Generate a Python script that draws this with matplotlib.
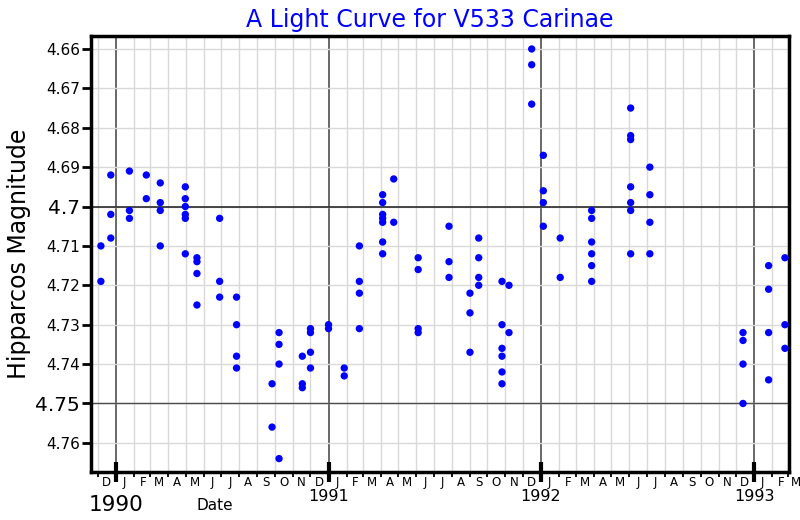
import pandas as pd
import matplotlib
matplotlib.use("Agg")
import matplotlib.pyplot as plt
import matplotlib.dates as mdates
from matplotlib.ticker import NullFormatter

epochs = ["1989-12-06", "1989-12-23", "1990-01-24", "1990-02-22", "1990-03-18",
          "1990-04-30", "1990-05-20", "1990-06-28", "1990-07-27", "1990-09-26",
          "1990-10-08", "1990-11-17", "1990-12-01", "1991-01-01", "1991-01-28",
          "1991-02-23", "1991-04-04", "1991-04-23", "1991-06-04", "1991-07-27",
          "1991-09-01", "1991-09-16", "1991-10-26", "1991-11-07", "1991-12-16",
          "1992-01-05", "1992-02-03", "1992-03-28", "1992-06-03", "1992-07-06",
          "1992-12-13", "1993-01-26", "1993-02-23"]
mag_groups = [[4.710, 4.719], [4.692, 4.702, 4.708], [4.691, 4.701, 4.703],
              [4.692, 4.698], [4.694, 4.699, 4.701, 4.710],
              [4.695, 4.698, 4.700, 4.702, 4.703, 4.712],
              [4.713, 4.714, 4.717, 4.725], [4.703, 4.719, 4.723],
              [4.723, 4.730, 4.738, 4.741], [4.745, 4.756],
              [4.732, 4.735, 4.740, 4.764], [4.738, 4.745, 4.746],
              [4.731, 4.732, 4.737, 4.741], [4.730, 4.731], [4.741, 4.743],
              [4.710, 4.719, 4.722, 4.731],
              [4.697, 4.699, 4.702, 4.703, 4.704, 4.709, 4.712],
              [4.693, 4.704], [4.713, 4.716, 4.731, 4.732],
              [4.705, 4.714, 4.718], [4.722, 4.727, 4.737],
              [4.708, 4.713, 4.718, 4.720],
              [4.719, 4.730, 4.736, 4.738, 4.742, 4.745], [4.720, 4.732],
              [4.660, 4.664, 4.674], [4.687, 4.696, 4.699, 4.705],
              [4.708, 4.718], [4.701, 4.703, 4.709, 4.712, 4.715, 4.719],
              [4.675, 4.682, 4.683, 4.695, 4.699, 4.701, 4.712],
              [4.690, 4.697, 4.704, 4.712], [4.732, 4.734, 4.740, 4.750],
              [4.715, 4.721, 4.732, 4.744], [4.713, 4.730, 4.736]]

year_labels = ["1990", "1991", "1992", "1993"]
month_letters = "JFMAMJJASOND"
mag_ticks = [4.66, 4.67, 4.68, 4.69, 4.70, 4.71, 4.72, 4.73, 4.74, 4.75, 4.76]
mag_labels = ["4.66", "4.67", "4.68", "4.69", "4.7", "4.71", "4.72", "4.73",
              "4.74", "4.75", "4.76"]

dates, mags = [], []
for d, group in zip(epochs, mag_groups):
    for m in group:
        dates.append(d)
        mags.append(m)
dates = pd.to_datetime(dates)

fig = plt.figure(figsize=(8, 5.2), dpi=100)
ax = fig.add_axes([0.11375, 0.0923, 0.8725, 0.8385])

ax.scatter(dates, mags, s=28, color="blue", edgecolors="none", zorder=3)

ax.set_xlim(pd.Timestamp("1989-11-19"), pd.Timestamp("1993-03-02"))
ax.set_ylim(4.7674, 4.6567)

# x axis: year ticks (major) and month ticks (minor)
year_pos = [mdates.date2num(pd.Timestamp(y + "-01-01")) for y in year_labels]
ax.set_xticks(year_pos, labels=year_labels)
ax.xaxis.set_minor_locator(mdates.MonthLocator())
ax.xaxis.set_minor_formatter(NullFormatter())
ax.tick_params(axis="x", which="major", direction="inout", length=14, width=3,
               pad=5, labelsize=11.5)
ax.tick_params(axis="x", which="minor", direction="out", length=3.5, width=1.3)
first = ax.xaxis.get_major_ticks()[0]
first.set_pad(9.5)
first.label1.set_fontsize(15.5)

# y axis
ax.set_yticks(mag_ticks, labels=mag_labels)
ax.tick_params(axis="y", direction="out", length=6.5, width=2, pad=1.5, labelsize=11)
for lab in ax.get_yticklabels():
    if lab.get_text() in ("4.7", "4.75"):
        lab.set_fontsize(14.5)

# grid
ax.set_axisbelow(True)
ax.xaxis.grid(True, which="minor", color="0.85", lw=1)
ax.xaxis.grid(True, which="major", color="0.25", lw=1.1)
ax.yaxis.grid(True, which="major", color="0.85", lw=1)
ax.axhline(4.70, color="0.1", lw=1.1, zorder=1)
ax.axhline(4.75, color="0.3", lw=1.0, zorder=1)

for s in ax.spines.values():
    s.set_linewidth(2.5)
    s.set_color("black")

# month letters centred in each month
months = pd.date_range("1989-12-01", "1993-03-01", freq="MS")
for i, mstart in enumerate(months):
    mid = mdates.date2num(mstart + pd.Timedelta(days=15))
    ha = "center"
    if i == len(months) - 1:
        # last letter sits at the figure edge; keep it inside
        mid = mdates.date2num(mstart + pd.Timedelta(days=21))
        ha = "right"
    ax.text(mid, -0.0245, month_letters[mstart.month - 1], transform=ax.get_xaxis_transform(),
            ha=ha, va="center", fontsize=8.5, clip_on=False)

ax.set_ylabel("Hipparcos Magnitude", fontsize=17, labelpad=3)
fig.text(215 / 800, 1 - 505 / 520, "Date", ha="center", va="center", fontsize=11)
fig.text(430 / 800, 1 - 20 / 520, "A Light Curve for V533 Carinae", ha="center",
         va="center", fontsize=17, color="blue")

fig.savefig("out.png", dpi=100)
